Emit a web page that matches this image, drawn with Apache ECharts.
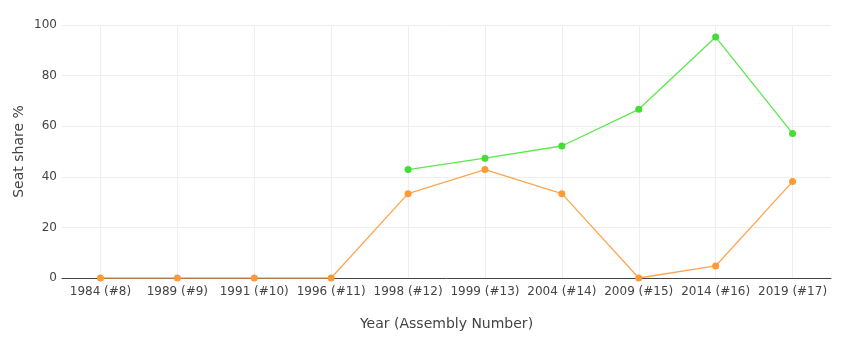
<!DOCTYPE html>
<html><head><meta charset="utf-8">
<script src="https://cdn.jsdelivr.net/npm/echarts@6/dist/echarts.min.js"></script>
<style>html,body{margin:0;padding:0;background:#fff}#c{width:850px;height:356px}</style>
</head><body><div id="c"></div>
<script>
const categories = ['1984 (#8)','1989 (#9)','1991 (#10)','1996 (#11)','1998 (#12)','1999 (#13)','2004 (#14)','2009 (#15)','2014 (#16)','2019 (#17)'];
const greenValues = [null,null,null,null,42.86,47.37,52.17,66.67,95.24,57.14];
const orangeValues = [0,0,0,0,33.33,42.86,33.33,0,4.76,38.1];
const yTicks = [0,20,40,60,80,100];

const chart = echarts.init(document.getElementById('c'));
const font = 'DejaVu Sans, Verdana, sans-serif';
chart.setOption({
  animation:false,
  grid:{left:62,right:19,top:25,bottom:78},
  xAxis:{
    type:'category', data:categories, boundaryGap:true,
    name:'Year (Assembly Number)', nameLocation:'middle', nameGap:39,
    nameTextStyle:{fontFamily:font,fontSize:14,color:'#444'},
    axisLine:{show:true,lineStyle:{color:'#444',width:1}},
    axisTick:{show:false},
    axisLabel:{fontFamily:font,fontSize:12,color:'#444',interval:0,margin:8},
    splitLine:{show:true,interval:0,alignWithLabel:true,lineStyle:{color:'#eeeeee',width:1}}
  },
  yAxis:{
    type:'value', min:yTicks[0], max:yTicks[yTicks.length-1], interval:20,
    name:'Seat share %', nameLocation:'middle', nameGap:36, nameMoveOverlap:false,
    nameTextStyle:{fontFamily:font,fontSize:14,color:'#444'},
    axisLine:{show:false}, axisTick:{show:false},
    axisLabel:{fontFamily:font,fontSize:12,color:'#444',margin:5},
    splitLine:{show:true,lineStyle:{color:'#eeeeee',width:1}}
  },
  series:[
    {type:'line',data:greenValues,symbol:'circle',symbolSize:7,connectNulls:false,
     itemStyle:{color:'#44dd33'},lineStyle:{color:'#5ee84e',width:1.3}},
    {type:'line',data:orangeValues,symbol:'circle',symbolSize:7,
     itemStyle:{color:'#ff9933'},lineStyle:{color:'#ffa552',width:1.3}}
  ]
});
</script></body></html>
